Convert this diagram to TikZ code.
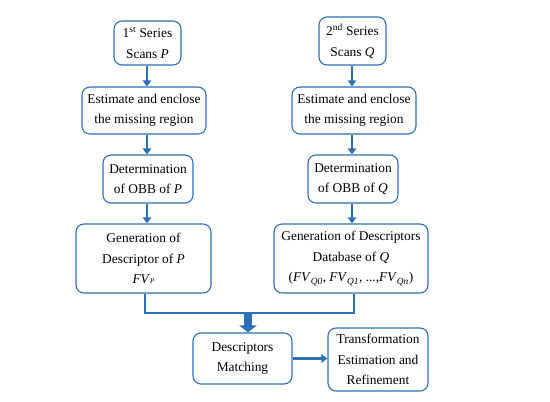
\documentclass[tikz,border=0pt]{standalone}
\usepackage{fontspec}
\setmainfont{Liberation Serif}
\usetikzlibrary{arrows.meta}
\definecolor{bblue}{RGB}{46,112,182}
\tikzset{
  box/.style={draw=bblue, line width=1.1pt, rounded corners=8pt, fill=white, align=center,
    inner sep=1pt, font=\fontsize{13.4}{20.5}\selectfont},
  flow/.style={draw=bblue, line width=2.4pt, -{Triangle[length=6pt,width=8.5pt]}},
  bigflow/.style={draw=bblue, line width=8pt, -{Triangle[length=7pt,width=17pt]}},
  joinline/.style={draw=bblue, line width=2.6pt}
}
\begin{document}
\begin{tikzpicture}[x=1pt,y=-1pt]
\useasboundingbox (0,0) rectangle (550,402);
% left column
\node[box, minimum width=67pt, minimum height=44pt] (l1) at (147.5,43) {1\textsuperscript{st} Series\\Scans \textit{P}};
\node[box, minimum width=124pt, minimum height=47pt] (l2) at (144,110.5) {Estimate and enclose\\the missing region};
\node[box, minimum width=90pt, minimum height=48pt] (l3) at (148,179) {Determination\\of OBB of \textit{P}};
\node[box, minimum width=135pt, minimum height=69pt] (l4) at (143.5,258.5) {Generation of\\Descriptor of \textit{P}\\\textit{FV}{\fontsize{7}{8}\selectfont\textit{P}}};
% right column
\node[box, minimum width=67pt, minimum height=48pt] (r1) at (352.5,41) {2\textsuperscript{nd} Series\\Scans \textit{Q}};
\node[box, minimum width=124pt, minimum height=47pt] (r2) at (354,110.5) {Estimate and enclose\\the missing region};
\node[box, minimum width=90pt, minimum height=48pt] (r3) at (353,179) {Determination\\of OBB of \textit{Q}};
\node[box, minimum width=154pt, minimum height=69pt] (r4) at (351,258.5) {Generation of Descriptors\\Database of \textit{Q}\\(\textit{FV}\textsubscript{\textit{Q0}}, \textit{FV}\textsubscript{\textit{Q1}}, ...,\textit{FV}\textsubscript{\textit{Qn}})};
% bottom
\node[box, minimum width=99pt, minimum height=51pt] (m) at (242.5,358.5) {Descriptors\\Matching};
\node[box, minimum width=100pt, minimum height=63pt] (t) at (378,359.5) {Transformation\\Estimation and\\Refinement};
% arrows
\coordinate (lx) at (147,0);
\coordinate (rx) at (352,0);
\draw[flow] (l1.south -| lx) -- (l2.north -| lx);
\draw[flow] (l2.south -| lx) -- (l3.north -| lx);
\draw[flow] (l3.south -| lx) -- (l4.north -| lx);
\draw[flow] (r1.south -| rx) -- (r2.north -| rx);
\draw[flow] (r2.south -| rx) -- (r3.north -| rx);
\draw[flow] (r3.south -| rx) -- (r4.north -| rx);
% join
\coordinate (jl) at (145,313);
\coordinate (jr) at (354,313);
\coordinate (jm) at (248,313);
\draw[joinline] (l4.south -| jl) -- (jl) -- (jr) -- (r4.south -| jr);
\draw[bigflow] (jm) -- (m.north -| jm);
\draw[flow] (m.east) -- (t.west |- m.east);
\end{tikzpicture}
\end{document}
